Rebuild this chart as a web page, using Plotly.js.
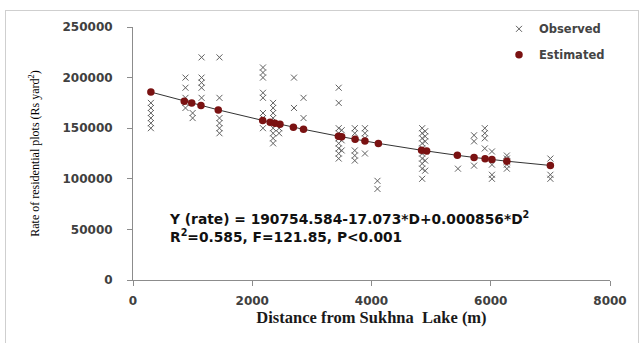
<!DOCTYPE html>
<html>
<head>
<meta charset="utf-8">
<script src="https://cdn.plot.ly/plotly-3.0.1.min.js"></script>
<style>
html,body{margin:0;padding:0;background:#fff;}
#chart{width:643px;height:343px;}
#frame{position:absolute;left:5px;top:10px;width:632px;height:340px;border:1px solid #cfcfcf;pointer-events:none;}
</style>
</head>
<body>
<div id="chart"></div>
<div id="frame"></div>
<script>
// Observed rates (distance in m, rate in Rs)
const obsDistance = [
  300,300,300,300,300,300,
  880,880,880,880,880,
  1000,1000,
  1150,1150,1150,1150,1150,
  1450,1450,1450,1450,1450,1450,
  2180,2180,2180,2180,2180,2180,2180,2180,
  2350,2350,2350,2350,2350,2350,2350,2350,2350,
  2450,2450,
  2700,2700,
  2860,2860,
  3450,3450,3450,3450,3450,3450,3450,3450,3450,
  3500,3500,3500,
  3720,3720,3720,3720,3720,
  3890,3890,3890,3890,
  4100,4100,
  4850,4850,4850,4850,4850,4850,4850,4850,4850,4850,
  4900,4900,4900,4900,4900,4900,
  5450,
  5720,5720,5720,
  5900,5900,5900,5900,
  6020,6020,6020,6020,
  6270,6270,6270,6270,6270,
  7000,7000,7000
];
const obsRate = [
  175000,170000,165000,160000,155000,150000,
  200000,190000,180000,175000,170000,
  165000,160000,
  220000,200000,195000,190000,180000,
  220000,180000,160000,155000,150000,145000,
  210000,205000,200000,185000,180000,165000,160000,150000,
  175000,170000,165000,160000,155000,150000,145000,140000,135000,
  150000,145000,
  200000,170000,
  180000,160000,
  190000,175000,150000,145000,140000,135000,130000,125000,120000,
  148000,138000,128000,
  150000,145000,128000,123000,118000,
  150000,145000,140000,125000,
  98000,90000,
  150000,145000,140000,135000,130000,125000,120000,115000,110000,100000,
  147000,142000,137000,127000,118000,108000,
  110000,
  143000,137000,113000,
  150000,145000,140000,130000,
  127000,114000,104000,100000,
  123000,120000,117000,114000,110000,
  120000,104000,100000
];
// Estimated rates (read from the fitted points)
const estDistance = [300,860,985,1140,1430,2175,2300,2380,2465,2690,2860,3445,3500,3725,3890,4115,4840,4925,5440,5720,5905,6020,6270,7000];
const estRate = [185700,176700,174800,172400,168100,157700,156000,155000,153900,151000,148900,142100,141500,139000,137300,135000,128200,127400,123200,121100,119800,119000,117400,113200];

const xTicks = [0,2000,4000,6000,8000];
const yTicks = [0,50000,100000,150000,200000,250000];

const tickFont = {family:'DejaVu Sans', size:12, color:'#404040', weight:'bold'};

const traces = [
  {x:estDistance, y:estRate, mode:'lines', line:{color:'#333333', width:1}, showlegend:false, hoverinfo:'skip'},
  {x:obsDistance, y:obsRate, mode:'markers', name:'Observed', legendgroup:'a',
   marker:{symbol:'x-thin-open', size:6, line:{color:'#606060', width:1}, color:'#606060'}},
  {x:estDistance, y:estRate, mode:'markers', name:'Estimated', legendgroup:'b',
   marker:{symbol:'circle', size:7.5, color:'#7a1212'}}
];

const layout = {
  width:643, height:343,
  margin:{l:133, r:33, t:27, b:63},
  paper_bgcolor:'#ffffff', plot_bgcolor:'#ffffff',
  showlegend:true,
  legend:{x:1.0, y:1.05, xanchor:'right', yanchor:'top', traceorder:'grouped', tracegroupgap:7,
          font:{family:'DejaVu Sans', size:11.5, color:'#444444', weight:'bold'}, itemwidth:30, bgcolor:'rgba(0,0,0,0)'},
  xaxis:{range:[0,8000], tickvals:xTicks, ticktext:xTicks.map(String), showgrid:false, zeroline:false,
         showline:true, linecolor:'#8c8c8c', linewidth:1, ticks:'outside', ticklen:5, tickcolor:'#8c8c8c',
         tickfont:tickFont, ticklabelstandoff:5,
         title:{text:'Distance from Sukhna  Lake (m)', font:{family:'Liberation Serif', size:16.5, color:'#1a1a1a', weight:'bold'}, standoff:4}},
  yaxis:{range:[0,250000], tickvals:yTicks, ticktext:yTicks.map(String), showgrid:false, zeroline:false,
         showline:true, linecolor:'#8c8c8c', linewidth:1, ticks:'outside', ticklen:5, tickcolor:'#8c8c8c',
         tickfont:tickFont, ticklabelstandoff:12,
         title:{text:'Rate of residential plots (Rs yard<sup>2</sup>)', font:{family:'Liberation Serif', size:12, color:'#000'}, standoff:20}},
  annotations:[
    {xref:'paper', yref:'paper', x:0.071, y:0.208, xanchor:'left', yanchor:'middle', showarrow:false, align:'left',
     text:'Y (rate) = 190754.584-17.073*D+0.000856*D<sup>2</sup><br>R<sup>2</sup>=0.585, F=121.85, P<0.001',
     font:{family:'DejaVu Sans', size:13.8, color:'#111', weight:'bold'}}
  ]
};

Plotly.newPlot('chart', traces, layout, {displayModeBar:false, staticPlot:true});
</script>
</body>
</html>
